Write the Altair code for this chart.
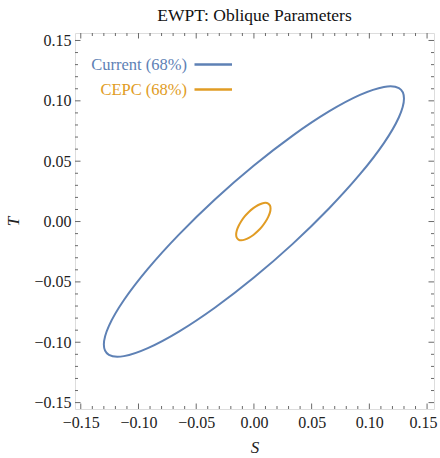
import altair as alt
import pandas as pd

# ---- data (S, T contour points) ----
series_names = ["Current (68%)", "CEPC (68%)"]
series_colors = ["#5e81b5", "#e19c24"]

S_current = [0.1300, 0.1256, 0.1126, 0.0919, 0.0650, 0.0336, 0.0000, -0.0336,
             -0.0650, -0.0919, -0.1126, -0.1256, -0.1300, -0.1256, -0.1126, -0.0919,
             -0.0650, -0.0336, 0.0000, 0.0336, 0.0650, 0.0919, 0.1126, 0.1256]
T_current = [0.1019, 0.1105, 0.1115, 0.1049, 0.0912, 0.0712, 0.0464, 0.0185,
             -0.0108, -0.0392, -0.0650, -0.0864, -0.1019, -0.1105, -0.1115, -0.1049,
             -0.0912, -0.0712, -0.0464, -0.0185, 0.0108, 0.0392, 0.0650, 0.0864]

S_cepc = [0.0144, 0.0139, 0.0124, 0.0100, 0.0070, 0.0034, -0.0005, -0.0044,
          -0.0080, -0.0110, -0.0134, -0.0149, -0.0154, -0.0149, -0.0134, -0.0110,
          -0.0080, -0.0044, -0.0005, 0.0034, 0.0070, 0.0100, 0.0124, 0.0139]
T_cepc = [0.0109, 0.0133, 0.0149, 0.0155, 0.0150, 0.0135, 0.0111, 0.0079,
          0.0042, 0.0002, -0.0039, -0.0076, -0.0109, -0.0133, -0.0149, -0.0155,
          -0.0150, -0.0135, -0.0111, -0.0079, -0.0042, -0.0002, 0.0039, 0.0076]

major_ticks = [-0.15, -0.10, -0.05, 0.00, 0.05, 0.10, 0.15]
minor_ticks = [-0.14, -0.13, -0.12, -0.11, -0.09, -0.08, -0.07, -0.06,
               -0.04, -0.03, -0.02, -0.01, 0.01, 0.02, 0.03, 0.04,
               0.06, 0.07, 0.08, 0.09, 0.11, 0.12, 0.13, 0.14]

title_text = "EWPT: Oblique Parameters"
x_title = "S"
y_title = "T"

# ---- layout / style ----
W, H = 359, 376
XDOM = [-0.155, 0.156]
YDOM = [-0.1553, 0.1562]
FONT = "Liberation Serif"
FRAME = "#6a6a6a"
TXT = "#222222"

df = pd.DataFrame({
    "S": S_current + S_cepc,
    "T": T_current + T_cepc,
    "series": [series_names[0]] * len(S_current) + [series_names[1]] * len(S_cepc),
    "i": list(range(len(S_current))) + list(range(len(S_cepc))),
})

xscale = alt.Scale(domain=XDOM, nice=False, zero=False)
yscale = alt.Scale(domain=YDOM, nice=False, zero=False)

xaxis = alt.Axis(
    values=major_ticks, format=".2f", ticks=False, domain=False, grid=False,
    labelFont=FONT, labelFontSize=16, labelColor=TXT, labelPadding=5,
    labelOffset=alt.expr("datum.value > 0.149 ? -4 : 0"),
    title=x_title, titleFont=FONT, titleFontStyle="italic", titleFontWeight="normal",
    titleFontSize=17, titleColor=TXT, titlePadding=9)
yaxis = alt.Axis(
    values=major_ticks, format=".2f", ticks=False, domain=False, grid=False,
    labelFont=FONT, labelFontSize=16, labelColor=TXT, labelPadding=4,
    title=y_title, titleFont=FONT, titleFontStyle="italic", titleFontWeight="normal",
    titleFontSize=17, titleColor=TXT, titlePadding=11)

curves = alt.Chart(df).mark_line(interpolate="cardinal-closed", strokeWidth=2).encode(
    x=alt.X("S:Q", scale=xscale, axis=xaxis),
    y=alt.Y("T:Q", scale=yscale, axis=yaxis),
    color=alt.Color("series:N", scale=alt.Scale(domain=series_names, range=series_colors), legend=None),
    detail="series:N",
    order="i:Q",
)

layers = [curves]

# inward frame ticks
for vals, ln in [(major_ticks, 5.5), (minor_ticks, 3)]:
    tdf = pd.DataFrame({"S": vals, "T": vals})
    base = alt.Chart(tdf).mark_rule(color=FRAME, strokeWidth=1)
    layers.append(base.encode(x=alt.X("S:Q", scale=xscale, axis=xaxis), y=alt.value(H), y2=alt.value(H - ln)))
    layers.append(base.encode(x=alt.X("S:Q", scale=xscale, axis=xaxis), y=alt.value(0), y2=alt.value(ln)))
    layers.append(base.encode(y=alt.Y("T:Q", scale=yscale, axis=yaxis), x=alt.value(0), x2=alt.value(ln)))
    layers.append(base.encode(y=alt.Y("T:Q", scale=yscale, axis=yaxis), x=alt.value(W), x2=alt.value(W - ln)))

# legend (label left of line, inside top-left)
leg_y = [31.5, 56.5]
for name, col, yy in zip(series_names, series_colors, leg_y):
    one = alt.Data(values=[{"label": name}])
    layers.append(alt.Chart(one).mark_text(
        align="right", baseline="middle", font=FONT, fontSize=16.5, color=col
    ).encode(text="label:N", x=alt.value(112), y=alt.value(yy)))
    layers.append(alt.Chart(one).mark_rule(color=col, strokeWidth=2.5).encode(
        x=alt.value(119.5), x2=alt.value(157), y=alt.value(yy)))

chart = alt.layer(*layers).properties(
    width=W, height=H,
    title=alt.Title(title_text, font=FONT, fontSize=17.5, fontWeight="normal",
                    color="#111111", anchor="middle", offset=8),
    autosize=alt.AutoSizeParams(type="none"),
    padding={"left": 75, "top": 33, "right": 6, "bottom": 49},
).configure_view(stroke=FRAME, strokeWidth=1).configure(background="white")

chart.save("out.html", embed_options={"renderer": "svg", "actions": False})
